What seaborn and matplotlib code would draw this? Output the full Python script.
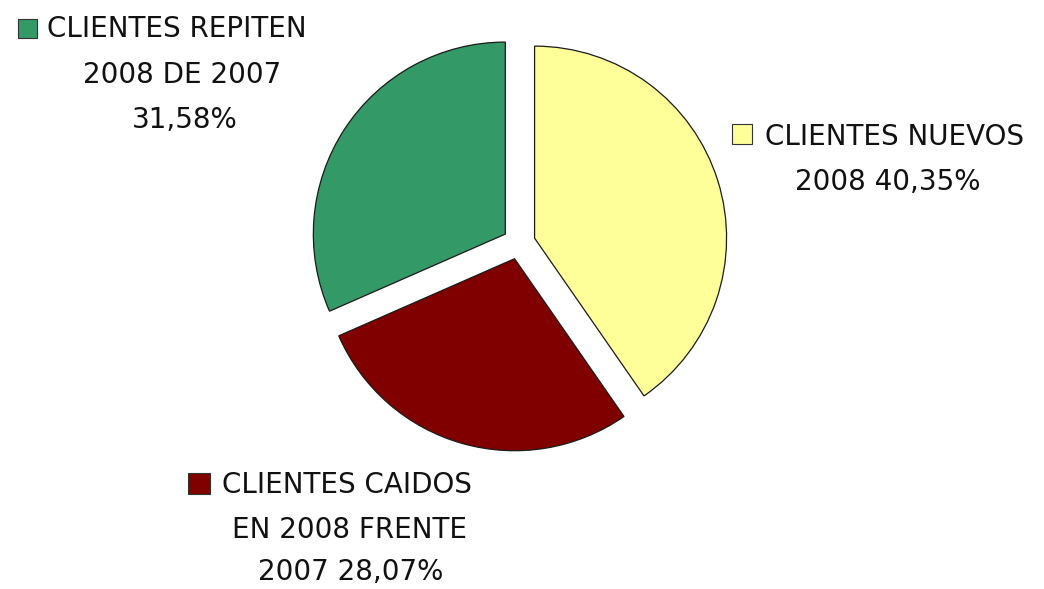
import matplotlib
matplotlib.use("Agg")
import matplotlib.pyplot as plt
from matplotlib.patches import Rectangle
import seaborn as sns

# Client breakdown, 2008 vs 2007
categories = ["CLIENTES NUEVOS", "CLIENTES CAIDOS", "CLIENTES REPITEN"]
shares = [40.35, 28.07, 31.58]
colors = ["#FFFF99", "#800000", "#339966"]


def pct(v):
    return f"{v:.2f}".replace(".", ",") + "%"


label_lines = [
    [categories[0], f"2008 {pct(shares[0])}"],
    [categories[1], "EN 2008 FRENTE", f"2007 {pct(shares[1])}"],
    [categories[2], "2008 DE 2007", pct(shares[2])],
]

sns.set_theme(style="white")
plt.rcParams["font.family"] = ["DejaVu Sans"]

W, H = 1044, 589
fig = plt.figure(figsize=(W / 100, H / 100), dpi=100)
fig.patch.set_facecolor("white")
ax = fig.add_axes([0, 0, 1, 1])

ax.pie(
    shares,
    colors=colors,
    startangle=90,
    counterclock=False,
    explode=[0.085] * len(shares),
    radius=1.0,
    wedgeprops=dict(edgecolor="#1a1a1a", linewidth=0.9),
)

# pixel-based frame: pie radius 1 == R pixels, centred at (cx, cy)
R = 192.0
cx, cy = 519.0, 243.0
ax.set_xlim(-cx / R, (W - cx) / R)
ax.set_ylim(-(H - cy) / R, cy / R)
ax.set_aspect("equal")
ax.axis("off")


def px(x, y):
    return (x - cx) / R, (cy - y) / R


FS = 20

# (square box, first-line left x, first-line baseline, [(centre x, baseline) ...])
layout = [
    ((732, 124, 20, 20), 765, 145, [(888, 190)]),
    ((188, 473, 22, 21), 222, 493, [(350, 538), (351, 580)]),
    ((18, 19, 19, 19), 47, 37, [(182, 83), (185, 128)]),
]

for (box, tx, tb, rest), lines, col in zip(layout, label_lines, colors):
    bx, by, bw, bh = box
    x0, y0 = px(bx, by + bh)
    ax.add_patch(Rectangle((x0, y0), bw / R, bh / R, facecolor=col,
                           edgecolor="#333333", linewidth=0.8))
    ax.text(*px(tx, tb), lines[0], fontsize=FS, ha="left", va="baseline",
            color="#111111")
    for (lx, lb), txt in zip(rest, lines[1:]):
        ax.text(*px(lx, lb), txt, fontsize=FS, ha="center", va="baseline",
                color="#111111")

fig.savefig("out.png", dpi=100, facecolor="white")
